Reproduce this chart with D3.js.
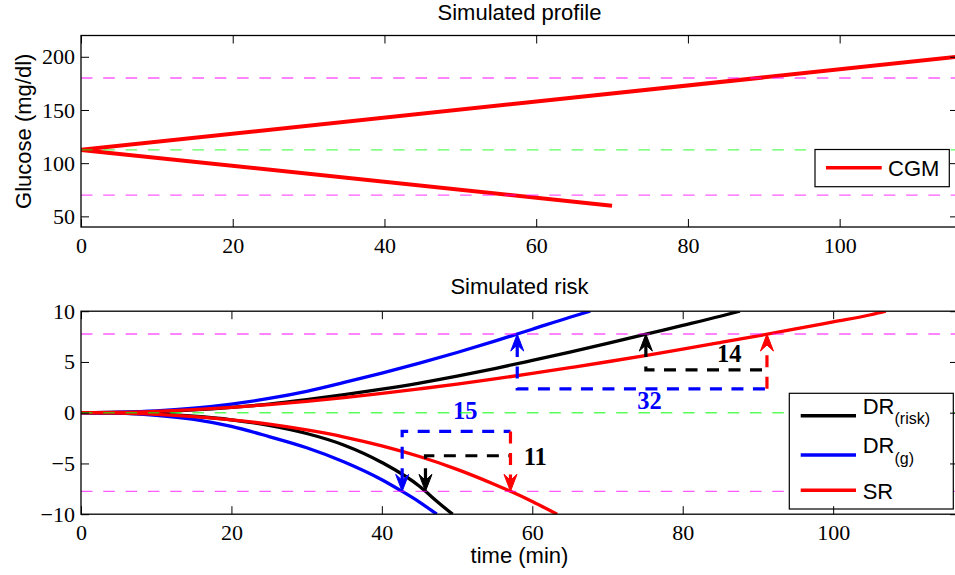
<!DOCTYPE html>
<html>
<head>
<meta charset="utf-8">
<script src="https://cdn.jsdelivr.net/npm/d3@7"></script>
<style>
  html, body { margin: 0; padding: 0; background: #fff; }
  svg { display: block; }
</style>
</head>
<body>
<svg id="chart" width="955" height="575"></svg>
<script>
// ---------- data ----------
const timeTicks = [0, 20, 40, 60, 80, 100];
const profileYTicks = [50, 100, 150, 200];
const riskYTicks = [-10, -5, 0, 5, 10];

// CGM glucose profiles (mg/dl): rising and falling scenario
const cgmUpTime = [0, 115.6];
const cgmUpGlucose = [112.5, 200];
const cgmDownTime = [0, 70];
const cgmDownGlucose = [112.5, 60];

// glucose reference lines
const glucoseLimits = [70, 180];
const glucoseTarget = [112.5];

// risk reference lines
const riskLimits = [-7.75, 7.75];
const riskTarget = [0];

// static risk (SR)
const srUpTime = [0, 5, 10, 15, 20, 25, 30, 35, 40, 45, 50, 55, 60, 65, 70, 75, 80, 85, 90, 95, 100, 105, 107];
const srUpRisk = [0, 0.03, 0.14, 0.3, 0.53, 0.8, 1.12, 1.48, 1.9, 2.35, 2.82, 3.33, 3.87, 4.44, 5.02, 5.63, 6.26, 6.91, 7.57, 8.25, 8.95, 9.65, 10];
const srDownTime = [0, 5, 10, 15, 20, 25, 30, 35, 40, 45, 50, 55, 57.1, 60, 63.3];
const srDownRisk = [0, -0.04, -0.16, -0.38, -0.7, -1.13, -1.7, -2.4, -3.27, -4.32, -5.58, -7.07, -7.75, -8.75, -10];

// dynamic risk, glucose-based (DR(g))
const drgUpTime = [0, 5, 10, 15, 20, 25, 30, 35, 40, 45, 50, 55, 58, 60, 65, 67.7];
const drgUpRisk = [0, 0.05, 0.18, 0.45, 0.85, 1.4, 2.1, 2.98, 3.9, 4.88, 5.93, 7.05, 7.75, 8.22, 9.4, 10];
const drgDownTime = [0, 5, 10, 15, 20, 25, 30, 35, 40, 42.7, 45, 47.3];
const drgDownRisk = [0, -0.05, -0.25, -0.65, -1.35, -2.35, -3.45, -4.85, -6.6, -7.75, -8.8, -10];

// dynamic risk, risk-based (DR(risk))
const drrUpTime = [0, 5, 10, 15, 20, 25, 30, 35, 40, 45, 50, 55, 60, 65, 70, 75, 80, 85, 87.6];
const drrUpRisk = [0, 0.03, 0.11, 0.27, 0.52, 0.85, 1.28, 1.78, 2.32, 2.92, 3.6, 4.35, 5.15, 5.97, 6.83, 7.72, 8.6, 9.5, 10];
const drrDownTime = [0, 5, 10, 15, 20, 25, 30, 35, 40, 45, 45.8, 47.5, 49.4];
const drrDownRisk = [0, -0.03, -0.15, -0.35, -0.7, -1.25, -2.05, -3.2, -4.9, -7.25, -7.75, -8.85, -10];

// threshold crossing times (min) and bracket levels (risk units)
const hyperCross = { sr: 91.2, drg: 58.0, drr: 75.1 };
const hyperLevel = { drg: 2.35, drr: 4.22 };
const hypoCross = { sr: 57.1, drg: 42.7, drr: 45.8 };
const hypoLevel = { drg: -1.84, drr: -4.24 };

// anticipation labels (min) and their anchors
const leadLabels = ["15", "11", "32", "14"];
const leadLabelTime = [51.1, 60.4, 75.6, 86.2];
const leadLabelRisk = [0.19, -4.31, 1.2, 5.85];
const leadLabelColor = ["#0000ff", "#000000", "#0000ff", "#000000"];

// legend
const riskSeriesNames = ["DR", "DR", "SR"];
const riskSeriesSubs = ["(risk)", "(g)", ""];
const riskSeriesColors = ["#000000", "#0000ff", "#ff0000"];

// ---------- setup ----------
const svg = d3.select("#chart");
const SANS = "'Liberation Sans', Arial, Helvetica, sans-serif";
const SERIF = "'Liberation Serif', 'Times New Roman', serif";
const FS = 22;

const xLeft = 81, xRight = 958;

const xTop = d3.scaleLinear().domain([0, 115.6]).range([xLeft, xRight]);
const yTop = d3.scaleLinear().domain([40, 220]).range([227, 35.5]);
const xBot = d3.scaleLinear().domain([0, 116.6]).range([xLeft, xRight]);
const yBot = d3.scaleLinear().domain([-10, 10]).range([514.2, 311.2]);

const defs = svg.append("defs");
function clipFor(id, x, y) {
  defs.append("clipPath").attr("id", id).append("rect")
    .attr("x", x.range()[0]).attr("y", y.range()[1])
    .attr("width", x.range()[1] - x.range()[0])
    .attr("height", y.range()[0] - y.range()[1]);
}
clipFor("clipTop", xTop, yTop);
clipFor("clipBot", xBot, yBot);

function zipPts(ts, vs) { return ts.map((t, i) => [t, vs[i]]); }

function refLines(g, x, y, values, color, opacity) {
  g.selectAll(null).data(values).enter().append("line")
    .attr("x1", x.range()[0]).attr("x2", x.range()[1])
    .attr("y1", d => y(d)).attr("y2", d => y(d))
    .attr("stroke", color).attr("stroke-opacity", opacity)
    .attr("stroke-width", 1.4).attr("stroke-dasharray", "11.5,10.8");
}

function frame(x, y, showXLabels) {
  const y0 = y.range()[0], y1 = y.range()[1];
  const x0 = x.range()[0], x1 = x.range()[1];
  const styleAxis = (sel) => {
    sel.select(".domain").remove();
    sel.selectAll(".tick line").attr("stroke", "#000").attr("stroke-width", 1);
    sel.selectAll(".tick text").attr("font-family", SERIF).attr("font-size", FS).attr("fill", "#000");
  };
  const bottom = svg.append("g").attr("transform", `translate(0,${y0})`)
    .call(d3.axisBottom(x).tickValues(timeTicks).tickSizeInner(-8).tickSizeOuter(0).tickPadding(10.5))
    .call(styleAxis);
  if (!showXLabels) bottom.selectAll(".tick text").remove();
  svg.append("g").attr("transform", `translate(0,${y1})`)
    .call(d3.axisTop(x).tickValues(timeTicks).tickSizeInner(-8).tickSizeOuter(0).tickFormat(""))
    .call(styleAxis);
  svg.append("g").attr("transform", `translate(${x0},0)`)
    .call(d3.axisLeft(y).tickValues(y === yTop ? profileYTicks : riskYTicks).tickSizeInner(-8).tickSizeOuter(0).tickPadding(6))
    .call(styleAxis);
  svg.append("g").attr("transform", `translate(${x1},0)`)
    .call(d3.axisRight(y).tickValues(y === yTop ? profileYTicks : riskYTicks).tickSizeInner(-8).tickSizeOuter(0).tickFormat(""))
    .call(styleAxis);
  svg.append("rect").attr("x", x0).attr("y", y1).attr("width", x1 - x0).attr("height", y0 - y1)
    .attr("fill", "none").attr("stroke", "#000").attr("stroke-width", 1.3);
}

// ---------- top panel: simulated profile ----------
const gTop = svg.append("g").attr("clip-path", "url(#clipTop)");
const lineTop = d3.line().x(d => xTop(d[0])).y(d => yTop(d[1]));
[zipPts(cgmUpTime, cgmUpGlucose), zipPts(cgmDownTime, cgmDownGlucose)].forEach(pts => {
  gTop.append("path").attr("d", lineTop(pts)).attr("fill", "none")
    .attr("stroke", "#ff0000").attr("stroke-width", 4).attr("stroke-linejoin", "round");
});
refLines(gTop, xTop, yTop, glucoseLimits, "#ff00ff", 0.65);
refLines(gTop, xTop, yTop, glucoseTarget, "#00ff00", 0.65);

// legend (top)
const lgTop = svg.append("g");
lgTop.append("rect").attr("x", 815).attr("y", 149.5).attr("width", 134.3).attr("height", 37.2)
  .attr("fill", "#fff").attr("stroke", "#000").attr("stroke-width", 1.2);
lgTop.append("line").attr("x1", 826).attr("x2", 881.7).attr("y1", 167.7).attr("y2", 167.7)
  .attr("stroke", "#ff0000").attr("stroke-width", 3.6);
lgTop.append("text").attr("x", 888).attr("y", 176.3).attr("font-family", SANS).attr("font-size", FS)
  .attr("fill", "#000").text("CGM");

frame(xTop, yTop, true);

svg.append("text").attr("x", (xLeft + xRight) / 2).attr("y", 19.5).attr("text-anchor", "middle")
  .attr("font-family", SANS).attr("font-size", FS).attr("fill", "#000").text("Simulated profile");
svg.append("text").attr("transform", `translate(31,${(yTop.range()[0] + yTop.range()[1]) / 2}) rotate(-90)`)
  .attr("text-anchor", "middle").attr("font-family", SANS).attr("font-size", FS).attr("fill", "#000")
  .text("Glucose (mg/dl)");

// ---------- bottom panel: simulated risk ----------
const gBot = svg.append("g").attr("clip-path", "url(#clipBot)");
const lineBot = d3.line().curve(d3.curveMonotoneX).x(d => xBot(d[0])).y(d => yBot(d[1]));

const riskCurves = [
  { pts: zipPts(drrUpTime, drrUpRisk), color: riskSeriesColors[0] },
  { pts: zipPts(drrDownTime, drrDownRisk), color: riskSeriesColors[0] },
  { pts: zipPts(drgUpTime, drgUpRisk), color: riskSeriesColors[1] },
  { pts: zipPts(drgDownTime, drgDownRisk), color: riskSeriesColors[1] },
  { pts: zipPts(srUpTime, srUpRisk), color: riskSeriesColors[2] },
  { pts: zipPts(srDownTime, srDownRisk), color: riskSeriesColors[2] }
];
gBot.selectAll(null).data(riskCurves).enter().append("path")
  .attr("d", d => lineBot(d.pts)).attr("fill", "none")
  .attr("stroke", d => d.color).attr("stroke-width", 3.3).attr("stroke-linejoin", "round");

// anticipation brackets with arrows
const lineAbs = d3.line();
function arrowHead(g, t, v, dir, color) {
  // dir = +1 points up, -1 points down
  const px = xBot(t), py = yBot(v);
  const s = dir > 0 ? 1 : -1;
  g.append("path")
    .attr("d", `M${px},${py} L${px - 6.5},${py + s * 17} L${px},${py + s * 11} L${px + 6.5},${py + s * 17} Z`)
    .attr("fill", color).attr("stroke", color).attr("stroke-width", 1).attr("stroke-linejoin", "miter");
  return py + s * 11;
}
function dashed(g, pts, color) {
  g.append("path").attr("d", lineAbs(pts)).attr("fill", "none").attr("stroke", color)
    .attr("stroke-width", 3.2).attr("stroke-dasharray", "12,9.5");
}
function bracket(g, tFrom, tTo, level, target, dir, color) {
  const notch = arrowHead(g, tFrom, target, dir, color);
  dashed(g, [[xBot(tFrom), notch], [xBot(tFrom), yBot(level)], [xBot(tTo), yBot(level)]], color);
}
const gAnn = svg.append("g");
// hyperglycaemia side
bracket(gAnn, hyperCross.drg, hyperCross.sr, hyperLevel.drg, riskLimits[1], 1, "#0000ff");
bracket(gAnn, hyperCross.drr, hyperCross.sr, hyperLevel.drr, riskLimits[1], 1, "#000000");
{
  const notch = arrowHead(gAnn, hyperCross.sr, riskLimits[1], 1, "#ff0000");
  dashed(gAnn, [[xBot(hyperCross.sr), yBot(hyperLevel.drg)], [xBot(hyperCross.sr), notch]], "#ff0000");
}
// hypoglycaemia side
bracket(gAnn, hypoCross.drg, hypoCross.sr, hypoLevel.drg, riskLimits[0], -1, "#0000ff");
bracket(gAnn, hypoCross.drr, hypoCross.sr, hypoLevel.drr, riskLimits[0], -1, "#000000");
{
  const notch = arrowHead(gAnn, hypoCross.sr, riskLimits[0], -1, "#ff0000");
  dashed(gAnn, [[xBot(hypoCross.sr), yBot(hypoLevel.drg)], [xBot(hypoCross.sr), notch]], "#ff0000");
}

gAnn.selectAll(null).data(leadLabels).enter().append("text")
  .attr("x", (d, i) => xBot(leadLabelTime[i])).attr("y", (d, i) => yBot(leadLabelRisk[i]))
  .attr("dy", "0.34em").attr("text-anchor", "middle")
  .attr("font-family", SERIF).attr("font-weight", "bold").attr("font-size", 24.5)
  .attr("fill", (d, i) => leadLabelColor[i]).text(d => d);

const gRef = svg.append("g").attr("clip-path", "url(#clipBot)");
refLines(gRef, xBot, yBot, riskLimits, "#ff00ff", 0.65);
refLines(gRef, xBot, yBot, riskTarget, "#00ff00", 0.65);

// legend (bottom)
const lgBot = svg.append("g");
lgBot.append("rect").attr("x", 789.3).attr("y", 393.3).attr("width", 164).attr("height", 115.7)
  .attr("fill", "#fff").attr("stroke", "#000").attr("stroke-width", 1.2);
const legendRowY = [415.7, 455, 490.3];
riskSeriesNames.forEach((name, i) => {
  const yy = legendRowY[i];
  lgBot.append("line").attr("x1", 800.7).attr("x2", 856).attr("y1", yy).attr("y2", yy)
    .attr("stroke", riskSeriesColors[i]).attr("stroke-width", 3.4);
  const base = riskSeriesSubs[i] ? yy - 2 : yy + 8.3;
  const t = lgBot.append("text").attr("x", 862.7).attr("y", base)
    .attr("font-family", SANS).attr("font-size", FS).attr("fill", "#000");
  t.append("tspan").text(name);
  if (riskSeriesSubs[i]) {
    t.append("tspan").attr("font-size", 16).attr("dy", 10.5).text(riskSeriesSubs[i]);
  }
});

frame(xBot, yBot, true);

svg.append("text").attr("x", (xLeft + xRight) / 2).attr("y", 294).attr("text-anchor", "middle")
  .attr("font-family", SANS).attr("font-size", FS).attr("fill", "#000").text("Simulated risk");
svg.append("text").attr("x", (xLeft + xRight) / 2).attr("y", 563).attr("text-anchor", "middle")
  .attr("font-family", SANS).attr("font-size", FS).attr("fill", "#000").text("time (min)");
</script>
</body>
</html>
